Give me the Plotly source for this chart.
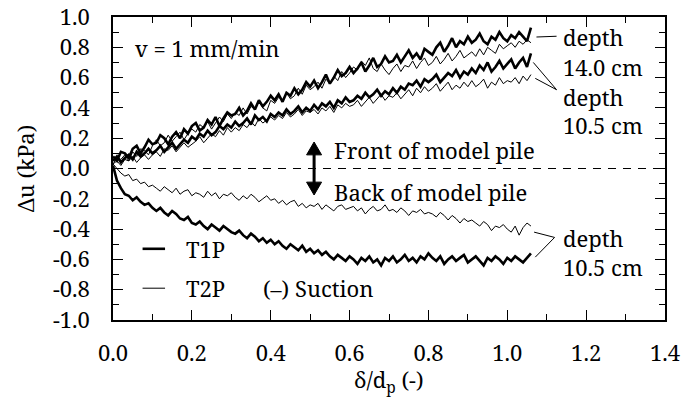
import plotly.graph_objects as go

# ---------------- data ----------------
delta = [round(i * 0.01, 2) for i in range(107)]  # δ/dp sampling grid

t1p_front_14 = [0.08, 0.05, 0.11, 0.10, 0.07, 0.13, 0.15, 0.10, 0.14, 0.19, 0.16,
                0.17, 0.22, 0.20, 0.16, 0.21, 0.24, 0.20, 0.26, 0.23, 0.28,
                0.30, 0.25, 0.27, 0.32, 0.29, 0.34, 0.28, 0.33, 0.37, 0.35,
                0.36, 0.40, 0.35, 0.38, 0.43, 0.39, 0.45, 0.41, 0.44, 0.48,
                0.45, 0.49, 0.44, 0.50, 0.48, 0.53, 0.49, 0.52, 0.57, 0.54,
                0.58, 0.53, 0.57, 0.62, 0.56, 0.60, 0.65, 0.61, 0.63, 0.67,
                0.63, 0.66, 0.70, 0.64, 0.68, 0.73, 0.67, 0.69, 0.74, 0.70,
                0.71, 0.75, 0.70, 0.74, 0.78, 0.73, 0.76, 0.72, 0.79, 0.77,
                0.75, 0.80, 0.83, 0.77, 0.81, 0.86, 0.80, 0.84, 0.82, 0.87,
                0.83, 0.85, 0.89, 0.84, 0.82, 0.87, 0.85, 0.90, 0.86, 0.84,
                0.88, 0.86, 0.90, 0.87, 0.84, 0.93]

t2p_front_14 = [0.03, 0.07, 0.06, 0.09, 0.05, 0.11, 0.08, 0.13, 0.12, 0.09, 0.15,
                0.19, 0.15, 0.17, 0.22, 0.18, 0.21, 0.24, 0.19, 0.23, 0.26,
                0.24, 0.29, 0.27, 0.31, 0.26, 0.30, 0.34, 0.31, 0.36, 0.33,
                0.37, 0.35, 0.40, 0.36, 0.41, 0.39, 0.44, 0.40, 0.38, 0.45,
                0.43, 0.47, 0.45, 0.50, 0.46, 0.48, 0.53, 0.49, 0.55, 0.52,
                0.54, 0.57, 0.53, 0.59, 0.56, 0.61, 0.58, 0.64, 0.60, 0.63,
                0.67, 0.65, 0.71, 0.68, 0.73, 0.66, 0.64, 0.69, 0.65, 0.62,
                0.66, 0.69, 0.64, 0.68, 0.67, 0.71, 0.66, 0.70, 0.73, 0.68,
                0.70, 0.74, 0.69, 0.72, 0.76, 0.71, 0.74, 0.78, 0.73, 0.75,
                0.77, 0.74, 0.79, 0.75, 0.80, 0.78, 0.76, 0.82, 0.79, 0.81,
                0.83, 0.80, 0.84, 0.82, 0.85, 0.83]

t1p_front_105 = [0.05, 0.08, 0.04, 0.07, 0.09, 0.06, 0.11, 0.08, 0.10, 0.13, 0.10,
                 0.12, 0.15, 0.11, 0.14, 0.17, 0.13, 0.16, 0.19, 0.17, 0.21,
                 0.19, 0.23, 0.21, 0.25, 0.22, 0.24, 0.28, 0.26, 0.29, 0.27,
                 0.31, 0.28, 0.30, 0.33, 0.29, 0.35, 0.32, 0.34, 0.31, 0.36,
                 0.34, 0.37, 0.35, 0.39, 0.36, 0.38, 0.41, 0.37, 0.40, 0.38,
                 0.42, 0.39, 0.43, 0.41, 0.44, 0.40, 0.45, 0.43, 0.47, 0.44,
                 0.45, 0.48, 0.46, 0.50, 0.47, 0.49, 0.52, 0.48, 0.51, 0.49,
                 0.53, 0.50, 0.54, 0.52, 0.56, 0.55, 0.58, 0.54, 0.59, 0.57,
                 0.59, 0.62, 0.57, 0.60, 0.63, 0.61, 0.65, 0.60, 0.64, 0.62,
                 0.66, 0.63, 0.68, 0.65, 0.70, 0.64, 0.67, 0.71, 0.66, 0.69,
                 0.72, 0.66, 0.70, 0.73, 0.67, 0.76]

t2p_front_105 = [0.03, 0.05, 0.02, 0.06, 0.05, 0.08, 0.04, 0.07, 0.09, 0.06, 0.09,
                 0.11, 0.08, 0.13, 0.12, 0.15, 0.11, 0.14, 0.17, 0.14, 0.16,
                 0.18, 0.21, 0.17, 0.20, 0.23, 0.21, 0.25, 0.22, 0.27, 0.24,
                 0.27, 0.25, 0.29, 0.27, 0.31, 0.28, 0.33, 0.30, 0.32, 0.34,
                 0.32, 0.35, 0.33, 0.37, 0.34, 0.36, 0.39, 0.35, 0.38, 0.37,
                 0.39, 0.36, 0.40, 0.38, 0.41, 0.37, 0.42, 0.40, 0.43, 0.41,
                 0.42, 0.45, 0.41, 0.44, 0.47, 0.43, 0.46, 0.49, 0.45, 0.48,
                 0.47, 0.50, 0.46, 0.49, 0.52, 0.48, 0.53, 0.50, 0.54, 0.51,
                 0.53, 0.56, 0.51, 0.54, 0.57, 0.52, 0.55, 0.53, 0.57, 0.54,
                 0.58, 0.54, 0.56, 0.59, 0.53, 0.57, 0.55, 0.60, 0.56, 0.58,
                 0.57, 0.60, 0.56, 0.61, 0.58, 0.62]

t2p_back_105 = [0.03, 0.00, -0.03, -0.05, -0.04, -0.08, -0.07, -0.10, -0.09, -0.12, -0.11,
                -0.13, -0.15, -0.12, -0.14, -0.16, -0.13, -0.17, -0.15, -0.14, -0.18,
                -0.16, -0.17, -0.19, -0.15, -0.18, -0.16, -0.20, -0.17, -0.18, -0.16,
                -0.19, -0.21, -0.18, -0.20, -0.17, -0.19, -0.22, -0.20, -0.18, -0.21,
                -0.20, -0.23, -0.21, -0.24, -0.22, -0.21, -0.25, -0.23, -0.26, -0.24,
                -0.25, -0.23, -0.27, -0.24, -0.26, -0.28, -0.25, -0.24, -0.27, -0.26,
                -0.25, -0.28, -0.26, -0.30, -0.27, -0.25, -0.28, -0.27, -0.24, -0.28,
                -0.27, -0.29, -0.26, -0.28, -0.31, -0.28, -0.29, -0.27, -0.30, -0.29,
                -0.30, -0.32, -0.29, -0.31, -0.34, -0.31, -0.33, -0.36, -0.33, -0.35,
                -0.34, -0.36, -0.38, -0.35, -0.37, -0.41, -0.38, -0.39, -0.37, -0.40,
                -0.42, -0.38, -0.44, -0.39, -0.36, -0.38]

t1p_back_105 = [0.02, -0.08, -0.13, -0.17, -0.18, -0.21, -0.19, -0.22, -0.24, -0.23, -0.26,
                -0.28, -0.26, -0.29, -0.31, -0.28, -0.30, -0.33, -0.34, -0.32, -0.36,
                -0.37, -0.35, -0.38, -0.40, -0.37, -0.39, -0.41, -0.38, -0.40, -0.42,
                -0.43, -0.41, -0.44, -0.46, -0.43, -0.45, -0.48, -0.46, -0.49, -0.47,
                -0.50, -0.48, -0.51, -0.53, -0.50, -0.52, -0.54, -0.51, -0.55, -0.53,
                -0.56, -0.54, -0.57, -0.55, -0.58, -0.60, -0.57, -0.59, -0.61, -0.58,
                -0.60, -0.63, -0.59, -0.61, -0.58, -0.62, -0.60, -0.64, -0.59, -0.61,
                -0.58, -0.62, -0.60, -0.57, -0.61, -0.59, -0.62, -0.58, -0.60, -0.56,
                -0.59, -0.61, -0.58, -0.63, -0.60, -0.58, -0.61, -0.59, -0.57, -0.62,
                -0.60, -0.58, -0.61, -0.64, -0.59, -0.61, -0.58, -0.60, -0.63, -0.59,
                -0.61, -0.58, -0.60, -0.62, -0.59, -0.56]

x_ticks = [0.0, 0.2, 0.4, 0.6, 0.8, 1.0, 1.2, 1.4]
x_ticktext = ["0.0", "0.2", "0.4", "0.6", "0.8", "1.0", "1.2", "1.4"]
y_ticks = [1.0, 0.8, 0.6, 0.4, 0.2, 0.0, -0.2, -0.4, -0.6, -0.8, -1.0]
y_ticktext = ["1.0", "0.8", "0.6", "0.4", "0.2", "0.0", "-0.2", "-0.4", "-0.6", "-0.8", "-1.0"]

# ---------------- figure ----------------
FONT = "Noto Serif"
FS = 22
THICK = 2.6
THIN = 1.0

fig = go.Figure()
series = [
    (t2p_front_14, THIN, "T2P 14.0 cm"),
    (t2p_front_105, THIN, "T2P 10.5 cm"),
    (t2p_back_105, THIN, "T2P back 10.5 cm"),
    (t1p_front_14, THICK, "T1P 14.0 cm"),
    (t1p_front_105, THICK, "T1P 10.5 cm"),
    (t1p_back_105, THICK, "T1P back 10.5 cm"),
]
for ys, w, nm in series:
    fig.add_trace(go.Scatter(x=delta, y=ys, mode="lines", name=nm,
                             line=dict(color="black", width=w), showlegend=False))

axis_common = dict(
    showgrid=False, zeroline=False, showline=True, linecolor="black", linewidth=1.5,
    mirror="allticks", ticks="inside", ticklen=10, tickwidth=1.2, tickcolor="black",
    automargin=False,
    tickfont=dict(family=FONT, size=FS, color="black"),
    minor=dict(ticks="inside", ticklen=6, tickwidth=1.2, tickcolor="black", dtick=0.1),
)
fig.update_xaxes(range=[0, 1.4], tickmode="array", tickvals=x_ticks, ticktext=x_ticktext,
                 ticklabelstandoff=13, **axis_common)
fig.update_yaxes(range=[-1.0, 1.0], tickmode="array", tickvals=y_ticks, ticktext=y_ticktext,
                 ticklabelstandoff=17, **axis_common)

# zero dashed line
fig.add_shape(type="line", xref="paper", yref="y", x0=0, x1=1, y0=0, y1=0,
              line=dict(color="black", width=1, dash="8px,7px"))

def txt(x, y, s, xanchor="left", size=FS, xref="x", yref="y", angle=0):
    fig.add_annotation(x=x, y=y, xref=xref, yref=yref, text=s, showarrow=False,
                       xanchor=xanchor, yanchor="middle", textangle=angle,
                       font=dict(family=FONT, size=size, color="black"))

txt(0.05, 0.795, "v = 1 mm/min")
txt(0.555, 0.125, "Front of model pile")
txt(0.555, -0.155, "Back of model pile")
txt(1.135, 0.87, "depth")
txt(1.135, 0.67, "14.0 cm")
txt(1.135, 0.47, "depth")
txt(1.135, 0.285, "10.5 cm")
txt(1.135, -0.46, "depth")
txt(1.135, -0.65, "10.5 cm")
txt(0.18, -0.53, "T1P")
txt(0.18, -0.79, "T2P")
txt(0.375, -0.79, "(\u2013) Suction")

# legend keys
fig.add_shape(type="line", x0=0.075, x1=0.132, y0=-0.53, y1=-0.53,
              line=dict(color="black", width=THICK))
fig.add_shape(type="line", x0=0.075, x1=0.132, y0=-0.79, y1=-0.79,
              line=dict(color="black", width=THIN))

# leader lines
leaders = [
    (1.074, 0.868, 1.125, 0.873),
    (1.066, 0.70, 1.125, 0.52),
    (1.071, 0.595, 1.125, 0.52),
    (1.068, -0.42, 1.12, -0.455),
    (1.071, -0.585, 1.12, -0.455),
]
for x0, y0, x1, y1 in leaders:
    fig.add_shape(type="line", x0=x0, y0=y0, x1=x1, y1=y1,
                  line=dict(color="black", width=1))

# double arrow (shaft + two filled heads)
fig.add_shape(type="line", x0=0.51, x1=0.51, y0=0.10, y1=-0.10,
              line=dict(color="black", width=3))
fig.add_shape(type="path", path="M 0.491 0.09 L 0.51 0.175 L 0.529 0.09 Z",
              fillcolor="black", line=dict(color="black", width=1))
fig.add_shape(type="path", path="M 0.491 -0.09 L 0.51 -0.175 L 0.529 -0.09 Z",
              fillcolor="black", line=dict(color="black", width=1))

# axis titles
txt(-0.16, 0.5, "\u0394u (kPa)", xanchor="center", xref="paper", yref="paper", angle=-90)
txt(0.5, -0.2, "\u03b4/d<sub>p</sub> (-)", xanchor="center", xref="paper", yref="paper")

fig.update_layout(
    width=683, height=405,
    margin=dict(l=113, r=18, t=17, b=85),
    paper_bgcolor="white", plot_bgcolor="white",
    font=dict(family=FONT, size=FS, color="black"),
    showlegend=False,
)

fig.write_html("out.html", config={"displayModeBar": False},
               post_script="document.body.style.margin='0';")
